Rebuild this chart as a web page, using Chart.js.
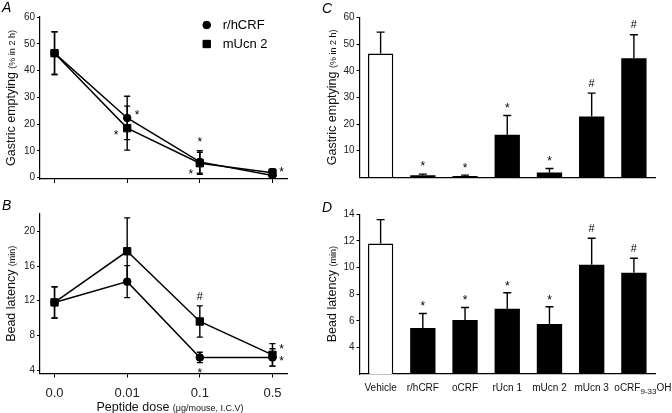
<!DOCTYPE html>
<html><head><meta charset="utf-8">
<script src="https://cdn.jsdelivr.net/npm/chart.js@4/dist/chart.umd.min.js"></script>
<style>
html,body{margin:0;padding:0;background:#fff;}
#wrap{position:relative;width:672px;height:413px;overflow:hidden;background:#fff;}
.p{position:absolute;}
</style></head><body>
<div id="wrap">
<div class="p" style="left:0;top:0;width:318px;height:190px"><canvas id="cA"></canvas></div>
<div class="p" style="left:0;top:190px;width:318px;height:223px"><canvas id="cB"></canvas></div>
<div class="p" style="left:318px;top:0;width:354px;height:190px"><canvas id="cC"></canvas></div>
<div class="p" style="left:318px;top:190px;width:354px;height:223px"><canvas id="cD"></canvas></div>
</div>
<script>
// ---------- data ----------
const doseLabels = ['0.0', '0.01', '0.1', '0.5'];
const seriesNames = ['r/hCRF', 'mUcn 2'];
const geCRF = [46.5, 22.3, 5.9, 0.8];
const geCRFErr = [8.0, 8.1, 4.2, 0.8];
const geUcn2 = [46.5, 18.5, 5.4, 1.8];
const geUcn2Err = [8.0, 8.2, 4.1, 1.5];
const blCRF = [11.8, 14.2, 5.45, 5.45];
const blCRFErr = [1.8, 1.85, 0.6, 1.0];
const blUcn2 = [11.8, 17.7, 9.6, 5.75];
const blUcn2Err = [1.8, 3.85, 1.8, 1.3];
// "_{...}" marks a subscript
const peptides = ['Vehicle', 'r/hCRF', 'oCRF', 'rUcn 1', 'mUcn 2', 'mUcn 3', 'oCRF_{9-33}OH'];
const geBars = [46.5, 0.8, 0.5, 16.0, 1.8, 22.8, 44.7];
const geBarsErr = [8.0, 0.4, 0.3, 7.2, 1.5, 8.8, 8.8];
const blBars = [11.8, 5.45, 6.05, 6.9, 5.75, 10.2, 9.6];
const blBarsErr = [1.8, 1.1, 0.95, 1.2, 1.3, 2.0, 1.1];
const geTicks = [0, 10, 20, 30, 40, 50, 60];
const blTicks = [4, 8, 12, 16, 20];
const geBarTicks = [10, 20, 30, 40, 50, 60];
const blBarTicks = [4, 6, 8, 10, 12, 14];
// significance marks: [category index, series, mark]
const marksA = [[1, 0, '*'], [1, 1, '*'], [2, 0, '*'], [2, 1, '*'], [3, 1, '*']];
const marksB = [[2, 1, '#'], [2, 0, '*'], [3, 1, '*'], [3, 0, '*']];
const marksC = ['', '*', '*', '*', '*', '#', '#'];
const marksD = ['', '*', '*', '*', '*', '#', '#'];

// ---------- helpers ----------
const FONT = '"Liberation Sans", Arial, Helvetica, sans-serif';
Chart.defaults.font.family = FONT;
Chart.defaults.color = '#222';

function errorBarPlugin(errs, mode, cap) {
  function draw(chart) {
    const ctx = chart.ctx, ys = chart.scales.y;
    ctx.save();
    ctx.strokeStyle = '#000';
    ctx.lineWidth = 1.4;
    chart.data.datasets.forEach((ds, di) => {
      const e = errs[di]; if (!e) return;
      const meta = chart.getDatasetMeta(di);
      meta.data.forEach((el, i) => {
        const v = meta.controller.getParsed(i).y;
        const x = el.x;
        const yt = ys.getPixelForValue(v + e[i]);
        const yb = mode === 'both' ? ys.getPixelForValue(v - e[i]) : ys.getPixelForValue(v);
        ctx.beginPath();
        ctx.moveTo(x, yt); ctx.lineTo(x, yb);
        ctx.moveTo(x - cap, yt); ctx.lineTo(x + cap, yt);
        if (mode === 'both') { ctx.moveTo(x - cap, yb); ctx.lineTo(x + cap, yb); }
        ctx.stroke();
      });
    });
    ctx.restore();
  }
  const p = { id: 'errorBars' };
  if (mode === 'both') p.beforeDatasetsDraw = draw; else p.afterDatasetsDraw = draw;
  return p;
}

function drawMark(ctx, text, cx, cy, size) {
  ctx.font = size + 'px ' + FONT;
  ctx.textAlign = 'center';
  ctx.textBaseline = 'alphabetic';
  const off = text === '*' ? 0.57 * size : 0.36 * size;
  ctx.fillText(text, cx, cy + off);
}

// items: {i, v, text, dx, dy}
function marksPlugin(items) {
  return {
    id: 'marks',
    afterDatasetsDraw(chart) {
      const ctx = chart.ctx;
      ctx.save(); ctx.fillStyle = '#000';
      items.forEach(it => {
        const x = chart.scales.x.getPixelForValue(it.i) + it.dx;
        const y = chart.scales.y.getPixelForValue(it.v) + it.dy;
        drawMark(ctx, it.text, x, y, it.text === '*' ? 12 : 11);
      });
      ctx.restore();
    }
  };
}

function drawParts(ctx, parts, x, y, rotate) {
  ctx.save();
  ctx.translate(x, y);
  if (rotate) ctx.rotate(-Math.PI / 2);
  let total = 0;
  parts.forEach(p => { ctx.font = p.size + 'px ' + FONT; p.w = ctx.measureText(p.text).width; total += p.w; });
  let cx = -total / 2;
  const base = 0.36 * parts[0].size;
  ctx.textAlign = 'left'; ctx.textBaseline = 'alphabetic'; ctx.fillStyle = '#111';
  parts.forEach(p => { ctx.font = p.size + 'px ' + FONT; ctx.fillText(p.text, cx, base + (p.shift || 0)); cx += p.w; });
  ctx.restore();
}

function labelParts(label, size, subSize) {
  return label.split(/_\{|\}/).filter(s => s.length).map((s, k, arr) => {
    const isSub = label.indexOf('_{' + s + '}') >= 0;
    return { text: s, size: isSub ? subSize : size, shift: isSub ? 2.5 : 0 };
  });
}

// cfg: {letter:[t,x,y], yTitle:{x, parts}, xTitle:{x,y,parts}, legend, xLabels}
function textPlugin(cfg) {
  return {
    id: 'texts',
    afterDraw(chart) {
      const ctx = chart.ctx, a = chart.chartArea;
      ctx.save();
      ctx.fillStyle = '#000';
      ctx.font = 'italic 14px ' + FONT;
      ctx.textAlign = 'left'; ctx.textBaseline = 'alphabetic';
      ctx.fillText(cfg.letter[0], cfg.letter[1], cfg.letter[2]);
      if (cfg.yTitle) drawParts(ctx, cfg.yTitle.parts, cfg.yTitle.x, (a.top + a.bottom) / 2, true);
      if (cfg.xTitle) drawParts(ctx, cfg.xTitle.parts, cfg.xTitle.x, cfg.xTitle.y, false);
      if (cfg.xLabels) {
        const X = cfg.xLabels, xs = chart.scales.x;
        chart.data.labels.forEach((lab, i) => {
          const parts = labelParts(lab, X.size, X.subSize);
          const dx = parts.length > 1 ? X.subDx : 0;
          drawParts(ctx, parts, xs.getPixelForValue(i) + dx, X.y, false);
        });
      }
      if (cfg.legend) {
        const L = cfg.legend;
        chart.data.datasets.forEach((ds, di) => {
          const y = L.y + di * L.gap;
          ctx.fillStyle = '#000';
          Chart.helpers.drawPoint(ctx, { pointStyle: ds.pointStyle, radius: ds.pointRadius, borderWidth: 1 }, L.x, y);
          ctx.fill();
          ctx.font = '13px ' + FONT;
          ctx.textAlign = 'left'; ctx.textBaseline = 'middle';
          ctx.fillText(ds.label, L.x + 16, y + 0.5);
        });
      }
      ctx.restore();
    }
  };
}

function lineDatasets(a, b) {
  const mk = (vals, name, style, r) => ({
    label: name,
    data: vals.map((v, i) => ({ x: i, y: v })),
    borderColor: '#000', borderWidth: 1.5, tension: 0,
    pointStyle: style, pointRadius: r, pointHoverRadius: r,
    pointBackgroundColor: '#000', pointBorderColor: '#000', pointBorderWidth: 1
  });
  return [mk(a, seriesNames[0], 'circle', 3.8), mk(b, seriesNames[1], 'rect', 5.2)];
}

function doseX(showLabels, h) {
  return {
    type: 'linear', min: -0.2, max: 3.2,
    afterBuildTicks: s => { s.ticks = doseLabels.map((_, i) => ({ value: i })); },
    ticks: { display: showLabels, callback: (v, i) => doseLabels[i], font: { size: 13 }, padding: 8.5, color: '#222', maxRotation: 0, autoSkip: false },
    grid: { drawOnChartArea: false, tickLength: 4, color: '#000' },
    border: { color: '#000', width: 1.2 },
    afterFit: s => { s.height = h; }
  };
}
function valY(min, max, ticks, w) {
  return {
    type: 'linear', min: min, max: max,
    afterBuildTicks: s => { s.ticks = ticks.map(v => ({ value: v })); },
    ticks: { font: { size: 10 }, padding: 2, color: '#222' },
    grid: { drawOnChartArea: false, tickLength: 3, color: '#000' },
    border: { color: '#000', width: 1.2 },
    afterFit: s => { s.width = w; }
  };
}
function catX(h) {
  return {
    type: 'category', offset: true,
    ticks: { display: false },
    grid: { drawOnChartArea: false, drawTicks: false, color: '#000' },
    border: { color: '#000', width: 1.2 },
    afterFit: s => { s.height = h; }
  };
}
const base = {
  responsive: true, maintainAspectRatio: false, animation: false, devicePixelRatio: 1,
  plugins: { legend: { display: false }, tooltip: { enabled: false } },
  events: []
};
const geTitle = [{ text: 'Gastric emptying ', size: 12.5 }, { text: '(% in 2 h)', size: 9 }];
const blTitle = [{ text: 'Bead latency ', size: 12.5 }, { text: '(min)', size: 9 }];

// ---------- Panel A ----------
const seriesA = [geCRF, geUcn2], errA = [geCRFErr, geUcn2Err];
const itemsA = marksA.map(([i, s, t]) => {
  let dx = 0, dy = 0, v = seriesA[s][i];
  if (i === 1) { dx = s === 0 ? 10 : -11; dy = s === 0 ? -6 : 4; }
  if (i === 2) { if (s === 0) { v = geCRF[i] + geCRFErr[i]; dy = -11; } else { v = 0; dx = -9; dy = -7; } }
  if (i === 3) { dx = 9; dy = -4; }
  return { i, v, text: t, dx, dy };
});
new Chart(document.getElementById('cA'), {
  type: 'line',
  data: { datasets: lineDatasets(geCRF, geUcn2) },
  options: Object.assign({}, base, {
    layout: { padding: { top: 17, right: 31, left: 0, bottom: 0 } },
    scales: { x: doseX(false, 11), y: valY(-0.5, 60, geTicks, 40) }
  }),
  plugins: [errorBarPlugin(errA, 'both', 3), marksPlugin(itemsA),
    textPlugin({ letter: ['A', 2, 11.7], yTitle: { x: 10, parts: geTitle }, legend: { x: 206.7, y: 25, gap: 19 } })]
});

// ---------- Panel B ----------
const seriesB = [blCRF, blUcn2], errB = [blCRFErr, blUcn2Err];
const itemsB = marksB.map(([i, s, t]) => {
  let dx = 0, dy = 0, v;
  if (i === 2) { if (s === 1) { v = blUcn2[i] + blUcn2Err[i]; dy = -10; } else { v = blCRF[i] - blCRFErr[i]; dy = 7; } }
  if (i === 3) { v = seriesB[s][i]; dx = 9; dy = s === 1 ? -8.5 : 1; }
  return { i, v, text: t, dx, dy };
});
new Chart(document.getElementById('cB'), {
  type: 'line',
  data: { datasets: lineDatasets(blCRF, blUcn2) },
  options: Object.assign({}, base, {
    layout: { padding: { top: 24, right: 31, left: 0, bottom: 0 } },
    scales: { x: doseX(true, 39.5), y: valY(3.6, 22, blTicks, 40) }
  }),
  plugins: [errorBarPlugin(errB, 'both', 3), marksPlugin(itemsB),
    textPlugin({ letter: ['B', 2, 20], yTitle: { x: 10, parts: blTitle },
      xTitle: { x: 170, y: 216, parts: [{ text: 'Peptide dose ', size: 12.5 }, { text: '(μg/mouse, I.C.V)', size: 9 }] } })]
});

// ---------- Panel C ----------
function barData(vals) {
  return {
    labels: peptides,
    datasets: [{
      data: vals,
      backgroundColor: peptides.map((_, i) => i === 0 ? '#fff' : '#000'),
      borderColor: '#000',
      borderWidth: peptides.map((_, i) => i === 0 ? 1.5 : 0),
      categoryPercentage: 1, barPercentage: 0.6
    }]
  };
}
const itemsC = marksC.map((t, i) => ({ i, v: geBars[i] + geBarsErr[i], text: t, dx: 0, dy: -10.5 })).filter(m => m.text);
new Chart(document.getElementById('cC'), {
  type: 'bar',
  data: barData(geBars),
  options: Object.assign({}, base, {
    layout: { padding: { top: 17.5, right: 17, left: 0, bottom: 0 } },
    scales: { x: catX(12.7), y: valY(0, 60, geBarTicks, 41.5) }
  }),
  plugins: [errorBarPlugin([geBarsErr], 'up', 4), marksPlugin(itemsC),
    textPlugin({ letter: ['C', 4, 13.3], yTitle: { x: 13, parts: geTitle } })]
});

// ---------- Panel D ----------
const itemsD = marksD.map((t, i) => ({ i, v: blBars[i] + blBarsErr[i], text: t, dx: 0, dy: -10 })).filter(m => m.text);
new Chart(document.getElementById('cD'), {
  type: 'bar',
  data: barData(blBars),
  options: Object.assign({}, base, {
    layout: { padding: { top: 24.3, right: 17, left: 0, bottom: 0 } },
    scales: { x: catX(39), y: valY(2, 14, blBarTicks, 41.5) }
  }),
  plugins: [errorBarPlugin([blBarsErr], 'up', 4), marksPlugin(itemsD),
    textPlugin({ letter: ['D', 4, 21.7], yTitle: { x: 13, parts: blTitle },
      xLabels: { y: 197.7, size: 10, subSize: 8, subDx: 9 } })]
});
</script>
</body></html>
